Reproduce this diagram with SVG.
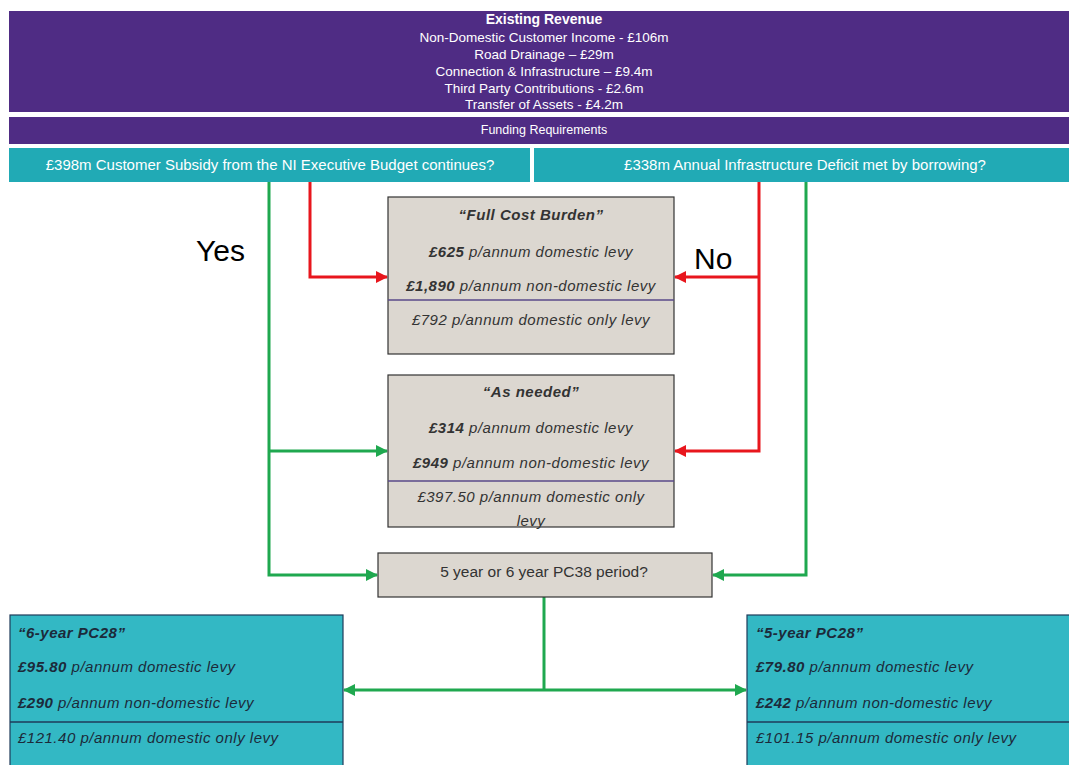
<svg xmlns="http://www.w3.org/2000/svg" width="1069" height="765" viewBox="0 0 1069 765">
<defs>
<style>
.hdr{font-family:"Liberation Sans",Arial,sans-serif;fill:#ffffff;text-anchor:middle}
.q{font-family:"Liberation Sans",Arial,sans-serif;fill:#ffffff;font-size:15px;text-anchor:middle}
.bx{font-family:"Liberation Sans",Arial,sans-serif;font-style:italic;font-size:15px;letter-spacing:0.5px;fill:#333333;text-anchor:middle}
.bt{font-family:"Liberation Sans",Arial,sans-serif;font-style:italic;font-size:15px;letter-spacing:0.5px;fill:#1c2a3a}
.b{font-weight:bold}
.lbl{font-family:"Liberation Sans",Arial,sans-serif;font-size:30px;fill:#000000}
.g{fill:none;stroke:#1fa84f;stroke-width:3}
.r{fill:none;stroke:#e8161d;stroke-width:3}
.grey{fill:#dcd7d0;stroke:#333333;stroke-width:1.2}
.teal{fill:#33b8c4;stroke:#1f3b5a;stroke-width:1.2}
</style>
<marker id="ag" markerWidth="12" markerHeight="12" refX="11" refY="6" orient="auto" markerUnits="userSpaceOnUse"><path d="M0,0 L12,6 L0,12 z" fill="#1fa84f"/></marker>
<marker id="ar" markerWidth="12" markerHeight="12" refX="11" refY="6" orient="auto" markerUnits="userSpaceOnUse"><path d="M0,0 L12,6 L0,12 z" fill="#e8161d"/></marker>
</defs>
<rect width="1069" height="765" fill="#ffffff"/>

<g id="existing-revenue">
<rect x="9" y="11" width="1060" height="101" fill="#4f2c84"/>
<text class="hdr b" x="544" y="24" font-size="14">Existing Revenue</text>
<text class="hdr" x="544" y="42" font-size="13.5">Non-Domestic Customer Income - £106m</text>
<text class="hdr" x="544" y="59" font-size="13.5">Road Drainage – £29m</text>
<text class="hdr" x="544" y="76" font-size="13.5">Connection &amp; Infrastructure – £9.4m</text>
<text class="hdr" x="544" y="93" font-size="13.5">Third Party Contributions - £2.6m</text>
<text class="hdr" x="544" y="109" font-size="13.5">Transfer of Assets - £4.2m</text>
</g>

<g id="funding-requirements">
<rect x="9" y="117" width="1060" height="27" fill="#4f2c84"/>
<text class="hdr" x="544" y="134" font-size="12.5">Funding Requirements</text>
</g>

<g id="subsidy-question">
<rect x="9" y="148" width="521" height="34" fill="#21aab5"/>
<text class="q" x="270" y="170">£398m Customer Subsidy from the NI Executive Budget continues?</text>
</g>

<g id="deficit-question">
<rect x="534" y="148" width="535" height="34" fill="#21aab5"/>
<text class="q" x="805" y="170">£338m Annual Infrastructure Deficit met by borrowing?</text>
</g>

<g id="connectors">
<path class="g" d="M269,182 V575 H377" marker-end="url(#ag)"/>
<path class="g" d="M269,451 H387" marker-end="url(#ag)"/>
<path class="r" d="M310,182 V277 H387" marker-end="url(#ar)"/>
<path class="r" d="M759,182 V451 H675" marker-end="url(#ar)"/>
<path class="r" d="M759,277 H675" marker-end="url(#ar)"/>
<path class="g" d="M806,182 V575 H713" marker-end="url(#ag)"/>
<path class="g" d="M544,597 V690"/>
<path class="g" d="M544,690 H344" marker-end="url(#ag)"/>
<path class="g" d="M544,690 H746" marker-end="url(#ag)"/>
<text class="lbl" x="196" y="261">Yes</text>
<text class="lbl" x="694" y="269">No</text>
</g>

<g id="full-cost-burden">
<rect class="grey" x="388" y="197" width="286" height="157"/>
<line x1="388" y1="300" x2="674" y2="300" stroke="#5a4a8a" stroke-width="1.5"/>
<text class="bx b" x="531" y="220">“Full Cost Burden”</text>
<text class="bx" x="531" y="257"><tspan class="b">£625</tspan> p/annum domestic levy</text>
<text class="bx" x="531" y="291"><tspan class="b">£1,890</tspan> p/annum non-domestic levy</text>
<text class="bx" x="531" y="325">£792 p/annum domestic only levy</text>
</g>

<g id="as-needed">
<rect class="grey" x="388" y="375" width="286" height="152"/>
<line x1="388" y1="481" x2="674" y2="481" stroke="#5a4a8a" stroke-width="1.5"/>
<text class="bx b" x="531" y="397">“As needed”</text>
<text class="bx" x="531" y="433"><tspan class="b">£314</tspan> p/annum domestic levy</text>
<text class="bx" x="531" y="468"><tspan class="b">£949</tspan> p/annum non-domestic levy</text>
<text class="bx" x="531" y="502">£397.50 p/annum domestic only</text>
<text class="bx" x="531" y="526">levy</text>
</g>

<g id="period-question">
<rect class="grey" x="378" y="553" width="334" height="44"/>
<text x="544" y="577" font-family="'Liberation Sans',Arial,sans-serif" font-size="15.5" fill="#333333" text-anchor="middle">5 year or 6 year PC38 period?</text>
</g>

<g id="six-year">
<rect class="teal" x="10" y="615" width="333" height="160"/>
<line x1="10" y1="722" x2="343" y2="722" stroke="#1f3b5a" stroke-width="1.5"/>
<text class="bt b" x="18" y="638">“6-year PC28”</text>
<text class="bt" x="18" y="672"><tspan class="b">£95.80</tspan> p/annum domestic levy</text>
<text class="bt" x="18" y="708"><tspan class="b">£290</tspan> p/annum non-domestic levy</text>
<text class="bt" x="18" y="743">£121.40 p/annum domestic only levy</text>
</g>

<g id="five-year">
<rect class="teal" x="747" y="615" width="330" height="160"/>
<line x1="747" y1="722" x2="1069" y2="722" stroke="#1f3b5a" stroke-width="1.5"/>
<text class="bt b" x="756" y="638">“5-year PC28”</text>
<text class="bt" x="756" y="672"><tspan class="b">£79.80</tspan> p/annum domestic levy</text>
<text class="bt" x="756" y="708"><tspan class="b">£242</tspan> p/annum non-domestic levy</text>
<text class="bt" x="756" y="743">£101.15 p/annum domestic only levy</text>
</g>
</svg>
